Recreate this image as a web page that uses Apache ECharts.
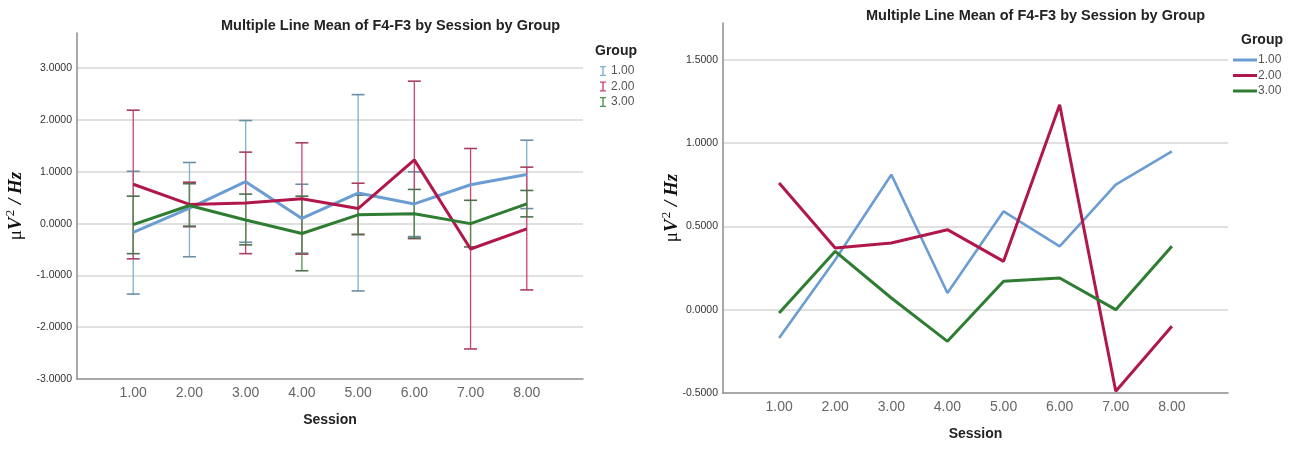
<!DOCTYPE html>
<html>
<head>
<meta charset="utf-8">
<script src="https://cdn.jsdelivr.net/npm/echarts@6.0.0/dist/echarts.min.js"></script>
<style>
  html, body { margin: 0; padding: 0; background: #fff; }
  #wrap { width: 1301px; height: 449px; position: relative; }
  #left { position: absolute; left: 0; top: 0; width: 650px; height: 449px; }
  #right { position: absolute; left: 650px; top: 0; width: 651px; height: 449px; }
</style>
</head>
<body>
<div id="wrap">
  <div id="left"></div>
  <div id="right"></div>
</div>
<script>
// sessions and group names
var sessions = [1, 2, 3, 4, 5, 6, 7, 8];
var groups = ['1.00', '2.00', '3.00'];

// mean of F4-F3 per session
var g1Mean = [-0.17, 0.30, 0.81, 0.10, 0.59, 0.38, 0.75, 0.95];
var g2Mean = [0.76, 0.37, 0.40, 0.48, 0.29, 1.23, -0.49, -0.10];
var g3Mean = [-0.02, 0.35, 0.07, -0.19, 0.17, 0.19, 0.00, 0.38];

// error bar ends (low / high), null = no bar
var g1Low = [-1.36, -0.64, -0.36, -0.57, -1.30, -0.25, null, 0.29];
var g1High = [1.01, 1.18, 1.99, 0.76, 2.49, 1.00, null, 1.61];
var g2Low = [-0.68, -0.06, -0.58, -0.59, -0.21, -0.29, -2.42, -1.28];
var g2High = [2.19, 0.80, 1.38, 1.56, 0.78, 2.75, 1.45, 1.09];
var g3Low = [-0.58, -0.05, -0.41, -0.91, -0.21, -0.28, -0.45, 0.13];
var g3High = [0.53, 0.77, 0.57, 0.53, 0.55, 0.66, 0.45, 0.64];

var lineColors = ['#6b9dd2', '#b0174a', '#2e7d32'];
var barColors = ['#7fb2cc', '#d0416f', '#4f9150'];
var capColors = ['#6a8fa3', '#a8405f', '#4f6f4f'];

var font = '"Liberation Sans", Arial, sans-serif';
var titleText = 'Multiple Line Mean of F4-F3 by Session by Group';
var ibeam = 'path://M0,0h6v1.2h-2.3v7.6h2.3v1.2h-6v-1.2h2.3v-7.6h-2.3z';

var means = [g1Mean, g2Mean, g3Mean];
var lows = [g1Low, g2Low, g3Low];
var highs = [g1High, g2High, g3High];

function pairs(vals) {
  return sessions.map(function(s, i) { return [s, vals[i]]; });
}

function barData(lo, hi) {
  var out = [];
  sessions.forEach(function(s, i) {
    if (lo[i] !== null && hi[i] !== null) out.push([s, lo[i], hi[i]]);
  });
  return out;
}

function yName() {
  return {
    name: '{a|μ}{b|V}{c|2}{b| / Hz}',
    nameLocation: 'middle',
    nameRotate: 90,
    nameMoveOverlap: false,
    nameTextStyle: {
      rich: {
        a: { fontFamily: '"Liberation Serif", serif', fontSize: 19, color: '#111', lineHeight: 24 },
        b: { fontFamily: '"Liberation Serif", serif', fontSize: 19, fontStyle: 'italic', fontWeight: 'bold', color: '#111', lineHeight: 24 },
        c: { fontFamily: '"Liberation Serif", serif', fontSize: 13, color: '#111', verticalAlign: 'top', lineHeight: 24, padding: [0, 1, 9, 1] }
      }
    }
  };
}

function xAxisCfg() {
  return {
    type: 'value', min: 0, max: 9, interval: 1,
    name: 'Session', nameLocation: 'middle', nameGap: 34,
    nameTextStyle: { fontFamily: font, fontWeight: 'bold', fontSize: 14, color: '#222' },
    axisLine: { onZero: false, lineStyle: { color: '#8c8c8c', width: 1.5 } },
    axisTick: { show: false },
    splitLine: { show: false },
    axisLabel: {
      fontFamily: font, fontSize: 14, color: '#666', margin: 7,
      showMinLabel: false, showMaxLabel: false,
      formatter: function(v) { return v.toFixed(2); }
    }
  };
}

function yAxisCfg(min, max, interval, gap) {
  var ax = yName();
  ax.type = 'value';
  ax.min = min; ax.max = max; ax.interval = interval;
  ax.nameGap = gap;
  ax.axisLine = { show: true, onZero: false, lineStyle: { color: '#8c8c8c', width: 1.5 } };
  ax.axisTick = { show: false };
  ax.splitLine = { show: true, showMaxLine: false, showMinLine: false, lineStyle: { color: '#d6d6d6', width: 1.5 } };
  ax.axisLabel = {
    fontFamily: font, fontSize: 10.5, color: '#333', margin: 5,
    showMaxLabel: false,
    formatter: function(v) { return v.toFixed(4); }
  };
  return ax;
}

// ---- left chart: means with error bars
var leftChart = echarts.init(document.getElementById('left'));
var leftSeries = [];
groups.forEach(function(g, k) {
  leftSeries.push({
    name: g,
    type: 'custom',
    itemStyle: { color: barColors[k] },
    z: 2,
    renderItem: function(params, api) {
      var x = api.value(0);
      var top = api.coord([x, api.value(2)]);
      var bot = api.coord([x, api.value(1)]);
      var w = 6.5;
      return {
        type: 'group',
        children: [
          { type: 'line', shape: { x1: top[0], y1: top[1], x2: bot[0], y2: bot[1] }, style: { stroke: barColors[k], lineWidth: 1.3 } },
          { type: 'line', shape: { x1: top[0] - w, y1: top[1], x2: top[0] + w, y2: top[1] }, style: { stroke: capColors[k], lineWidth: 1.6 } },
          { type: 'line', shape: { x1: bot[0] - w, y1: bot[1], x2: bot[0] + w, y2: bot[1] }, style: { stroke: capColors[k], lineWidth: 1.6 } }
        ]
      };
    },
    data: barData(lows[k], highs[k])
  });
});
groups.forEach(function(g, k) {
  leftSeries.push({
    name: g,
    type: 'line',
    symbol: 'none',
    z: 3,
    color: lineColors[k],
    lineStyle: { width: 3, color: lineColors[k] },
    data: pairs(means[k])
  });
});

leftChart.setOption({
  animation: false,
  title: [
    { text: titleText, left: 216, top: 13, textStyle: { fontFamily: font, fontWeight: 'bold', fontSize: 14.5, color: '#222' } },
    { text: 'Group', left: 590, top: 39, textStyle: { fontFamily: font, fontWeight: 'bold', fontSize: 14, color: '#222' } }
  ],
  legend: {
    orient: 'vertical', left: 595, top: 60, itemWidth: 6, itemHeight: 10, itemGap: 3.5,
    textStyle: { fontFamily: font, fontSize: 12, color: '#555' },
    data: groups.map(function(g, k) { return { name: g, icon: ibeam, itemStyle: { color: barColors[k] } }; })
  },
  grid: { left: 77, right: 67, top: 33, bottom: 70, outerBoundsMode: 'none' },
  xAxis: xAxisCfg(),
  yAxis: yAxisCfg(-3, 3.68, 1, 49),
  series: leftSeries
});

// ---- right chart: means only
var rightChart = echarts.init(document.getElementById('right'));
rightChart.setOption({
  animation: false,
  title: [
    { text: titleText, left: 211, top: 3, textStyle: { fontFamily: font, fontWeight: 'bold', fontSize: 14.5, color: '#222' } },
    { text: 'Group', left: 586, top: 28, textStyle: { fontFamily: font, fontWeight: 'bold', fontSize: 14, color: '#222' } }
  ],
  legend: {
    orient: 'vertical', left: 578, top: 49, itemWidth: 24, itemHeight: 3, itemGap: 3.5,
    textStyle: { fontFamily: font, fontSize: 12, color: '#555', padding: [0, 0, 0, -4] },
    data: groups.map(function(g, k) { return { name: g, icon: 'rect', itemStyle: { color: lineColors[k] } }; })
  },
  grid: { left: 73, right: 73, top: 23, bottom: 56, outerBoundsMode: 'none' },
  xAxis: xAxisCfg(),
  yAxis: yAxisCfg(-0.5, 1.72, 0.5, 39),
  series: groups.map(function(g, k) {
    return {
      name: g,
      type: 'line',
      symbol: 'none',
      color: lineColors[k],
      lineStyle: { width: k === 0 ? 2.6 : 3, color: lineColors[k] },
      data: pairs(means[k])
    };
  })
});
</script>
</body>
</html>
